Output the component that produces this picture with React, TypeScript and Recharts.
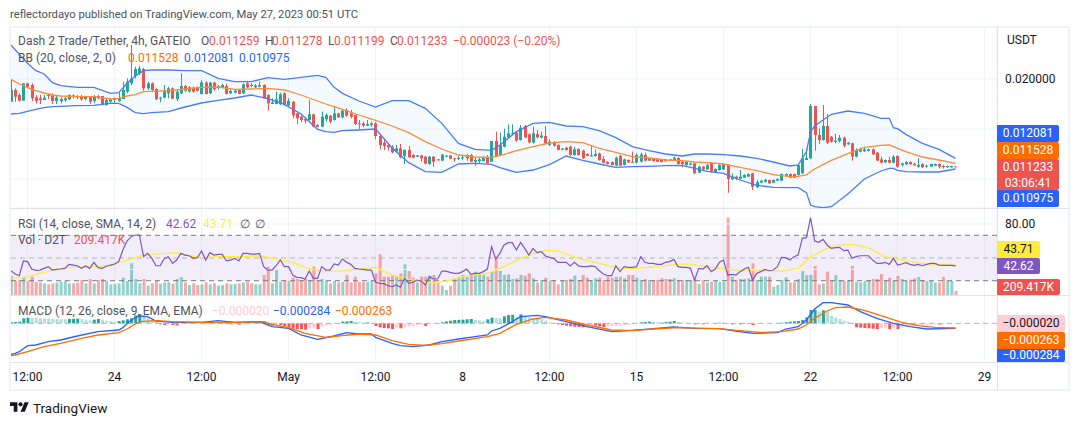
import React from "react";
import { ComposedChart, Bar, Line, Area, XAxis, YAxis, CartesianGrid, ReferenceLine, ReferenceArea, Cell } from "recharts";

// Prices are in units of 1/30000 USDT, so 600 = 0.020000
const PRICE_UNIT = 1 / 30000;
const opens = [
532,567,552,535,587,582,545,542,537,552,
550,534,534,536,539,551,549,549,540,547,
534,549,549,522,532,537,534,540,562,587,
609,617,630,572,587,570,542,544,557,572,
540,557,579,562,574,575,555,589,557,589,
574,575,579,557,559,567,557,587,582,575,
577,582,552,525,525,524,557,521,532,497,
487,480,477,494,462,457,479,490,477,497,
485,507,497,492,467,467,460,462,467,429,
409,402,395,382,392,369,387,372,367,371,
367,345,367,359,355,367,371,362,360,362,
362,372,352,354,354,365,352,414,372,397,
425,435,439,417,459,434,409,435,424,429,
402,411,402,388,394,397,372,390,385,375,
369,369,377,360,351,351,340,370,342,357,
351,349,352,372,355,360,359,359,359,359,
355,363,351,342,343,347,319,337,329,349,
321,327,329,342,299,307,301,304,307,317,
275,289,292,297,289,295,295,310,315,315,
312,317,357,362,519,432,417,459,427,411,
414,424,404,407,367,382,383,384,389,379,
359,350,357,349,369,342,344,351,346,337,
345,337,337,340,345,339,335,335,338];
const closes = [
567,547,535,587,577,542,534,537,544,549,
534,544,540,542,552,547,545,539,547,532,
549,542,522,537,539,541,542,567,592,602,
630,632,572,587,567,539,544,565,572,541,
562,579,565,575,562,565,590,555,589,569,
579,582,555,564,565,555,584,575,579,580,
582,542,527,530,539,554,522,534,492,482,
477,475,494,457,457,487,492,472,497,485,
505,490,487,465,465,460,465,467,429,402,
399,395,380,392,365,387,365,364,371,362,
346,367,352,356,373,370,361,359,363,365,
372,352,357,359,363,347,414,369,402,427,
437,437,415,454,425,410,437,425,430,407,
412,400,387,391,387,372,389,372,362,370,
371,375,357,349,345,342,364,340,359,350,
349,372,374,355,362,354,352,351,353,355,
364,345,345,351,347,317,337,329,342,321,
330,342,344,300,307,301,307,312,315,277,
291,295,298,287,297,300,315,315,304,304,
342,362,363,519,432,417,459,409,412,415,
424,400,409,367,387,389,389,389,374,355,
349,357,349,367,337,347,351,344,341,342,
335,340,345,345,337,336,339,339,337];
const highs = [
597,572,557,587,589,587,552,552,552,557,
557,552,545,547,554,554,552,552,549,549,
552,552,549,542,542,545,559,592,602,702,
637,639,634,592,590,572,547,582,577,575,
567,617,582,579,577,578,597,594,591,592,
582,585,585,569,569,569,587,594,587,585,
592,584,554,542,562,559,560,542,534,499,
490,485,537,496,465,502,497,492,517,499,
509,512,507,494,477,472,477,472,470,432,
422,407,402,402,405,389,399,375,372,372,
369,369,369,360,375,372,372,364,369,372,
375,375,364,364,367,372,414,442,439,451,
464,464,442,462,462,437,457,447,442,459,
419,414,404,393,396,400,397,392,388,377,
399,389,379,369,353,353,367,372,361,359,
382,377,379,379,364,362,361,361,360,360,
367,365,353,353,349,349,339,339,345,351,
332,345,347,344,317,310,327,314,317,319,
297,297,300,298,299,302,317,317,316,316,
342,390,391,525,519,452,522,495,429,435,
432,427,411,409,392,394,397,391,392,381,
367,359,367,372,371,349,354,353,348,362,
347,343,346,346,347,342,340,340,338];
const lows = [
532,532,532,535,572,534,527,525,537,540,
525,525,527,532,537,542,540,535,537,525,
527,540,521,520,527,525,532,540,557,582,
602,612,565,567,565,537,530,542,542,540,
534,555,562,560,559,563,554,554,555,565,
569,572,554,555,557,554,555,572,575,573,
575,541,505,525,524,522,520,519,482,465,
470,467,475,455,455,455,472,467,475,483,
482,487,482,462,449,455,459,457,419,389,
387,385,377,379,362,345,364,362,366,352,
344,342,337,355,354,365,360,352,357,357,
355,351,340,347,352,346,351,367,370,395,
422,432,412,415,422,407,407,422,422,405,
399,397,386,386,385,370,370,370,360,368,
367,367,355,347,344,341,339,339,341,348,
348,347,350,353,354,352,351,350,352,354,
354,344,335,340,341,315,318,327,327,319,
320,325,327,259,297,297,299,303,306,267,
274,288,289,286,288,294,294,309,303,303,
310,315,357,360,385,405,415,405,409,407,
409,395,403,355,365,380,381,383,372,354,
347,348,347,347,334,337,342,343,340,334,
333,334,336,339,332,331,334,334,336];

const bbIdx = [0,2,4,6,8,10,12,16,20,24,26,28,30,32,34,38,42,46,50,54,58,62,66,70,74,76,78,80,84,88,92,96,100,104,108,112,116,118,122,126,130,134,138,142,146,150,154,158,162,165,168,172,176,180,184,188,190,192,193,194,196,198,202,206,210,212,213,214,216,220,224,228];
const bbUpper = [702,674,647,625,615,589,580,575,575,557,559,587,609,625,627,627,625,625,602,592,592,604,599,605,611,605,575,557,534,516,535,535,512,467,407,389,386,402,442,467,470,459,457,445,424,397,385,375,369,375,375,373,369,362,351,339,342,382,442,459,477,494,504,497,482,482,454,451,434,407,389,362];
const bbMid = [599,585,574,565,558,552,549,547,547,540,542,549,553,562,563,565,570,575,576,569,570,572,567,552,534,525,517,509,492,476,459,439,412,390,372,366,365,370,385,397,408,412,409,392,380,367,363,357,355,351,349,345,335,325,313,307,308,312,322,330,343,356,376,395,401,402,397,392,382,366,357,347];
const bbLower = [495,497,503,509,514,517,518,520,521,527,527,515,499,496,499,502,516,528,536,543,552,541,524,495,449,442,440,445,447,450,393,349,322,320,345,347,344,334,320,327,343,369,356,345,335,337,338,340,341,332,323,317,297,281,275,274,274,259,222,217,214,217,255,300,324,332,332,326,322,321,321,330];

const rsi = [
38.8,35.9,34.4,47.4,46.8,40.3,39.1,39.4,40.9,42.4,
39.4,40,40.3,40.9,44.4,43.8,43.2,40.9,43,40.9,
46.2,41.5,40.9,42.7,43.8,44.7,46.8,57,65,68.8,
70.3,70.3,51.2,54.1,49.7,43.2,43.2,49.7,51.2,45.3,
48.2,54.1,52.6,52,49.7,50.3,56.2,48.2,54.7,52.6,
53.2,53.2,47.6,48.2,49.7,47.4,54.1,54.1,53.5,53.5,
54.1,42.4,39.4,39.4,43.2,48.2,42.4,42.4,35,33,
32.7,31.5,38.5,32.1,32.1,42.4,39.4,39.4,44.7,43.8,
49.1,46.2,44.4,40.9,40.3,40,39.4,39.4,28.6,27.7,
27.4,25.6,24.7,26.2,24.2,32.1,27.7,28.6,30.6,29.7,
26.2,33.6,31.5,31.5,38.5,38.5,37.4,36.5,36.5,38,
40.3,35.6,36.5,36.5,38,40.3,60,49.1,54.1,61.5,
63.5,63.5,57,63.8,58.5,52.6,58.5,54.7,55.6,51.8,
50.6,49.7,46.2,46.2,46.2,43,46.2,43,42.4,42.4,
43,42.4,38.8,35.9,34.4,34.4,43.2,38,42.4,41.8,
41.8,42.4,51.2,46.2,45.3,45.3,44.4,44.4,46.2,46.8,
48.8,42.4,41.8,41.8,40.9,30.6,40.9,40.3,43.2,38,
40.3,46.2,48.2,35,35.6,35,38,40.3,41.8,30.6,
36.5,38,40,38.8,39.4,42.4,50.6,50.3,48.2,51.2,
52.6,67.3,67.9,85.5,65,63.8,66.4,61.5,58.5,59.1,
59.4,56.5,57,49.7,51.2,52,52,52,48.2,45.3,
45.3,46.2,44.4,49.7,43.8,44.7,45.9,44.4,43.5,44.4,
43.2,44.4,45.3,45.3,43.8,43.5,43.5,43.5,43];
const rsiMaIdx = [0,3,7,12,18,24,28,32,35,40,43,46,50,55,60,64,68,71,75,80,84,88,92,96,102,106,110,115,119,123,129,132,137,141,147,151,156,161,164,169,171,175,181,186,190,193,197,199,203,207,211,216,221,228];
const rsiMa = [32.1,32.7,36.5,40.9,42.4,43.2,48.2,52.6,53.5,54.7,52,50.3,51.2,51.2,52,49.1,46.2,41.5,38.5,38.5,40.3,41.8,35,31.5,27.7,30.6,34.4,36.5,42.4,49.7,57,56.2,49.7,46.2,40.9,40.9,42.4,44.7,44.7,41.8,40.9,39.4,38.8,38.5,40.9,51.2,58.5,60.9,62,59.1,51.2,47.6,44.7,43.7];

// Volume in units of 17.45K
const VOL_UNIT_K = 17.45;
const volumes = [
57,42,45,52,42,55,40,38,35,32,
35,38,40,42,35,35,37,45,35,48,
35,45,48,42,32,34,35,52,42,95,
48,35,48,28,35,42,34,38,38,34,
48,54,38,30,35,30,32,38,32,35,
28,30,35,32,33,35,38,40,35,32,
32,60,85,35,75,40,45,42,52,48,
45,48,45,85,45,48,42,35,42,38,
40,60,38,55,40,40,40,42,65,122,
55,55,58,55,65,92,72,52,38,55,
55,58,60,38,28,15,28,50,55,60,
55,62,70,62,60,55,70,115,72,60,
62,48,50,60,58,65,50,38,45,52,
43,45,32,43,45,48,58,45,60,52,
45,50,52,45,55,52,55,55,50,60,
60,52,45,48,45,45,45,50,48,48,
50,45,45,45,45,48,33,45,38,40,
42,40,40,232,55,45,48,48,50,95,
45,55,55,55,25,30,45,53,38,40,
48,72,60,60,87,32,35,70,45,60,
45,42,45,87,40,38,42,45,48,48,
63,42,52,42,57,48,42,46,50,54,
45,42,42,38,38,54,42,42,12];

// MACD values in units of 0.0000189
const macdHist = [
3,4,5,15,17,16,15.5,15,14.5,14,
13.5,13,12.5,12,13,13.5,14,13,11,9,
11,13,10,8,7,6,7,9,12,15,
24,28,20,15,10,5,-3,-5,-3,-5,
-6,-3,1,2,3,2,3,4,5,4,
3,2,-2,-3,-2,-4,-2,1,3,4,
5,6,-5,-7,-3,-5,-8,-12,-16,-17,
-18,-19,-15,-14,-17,-10,-7,-4,-2,1,
5,6,7,5,4,2,3,1,-8,-12,
-14,-15,-17,-13,-15,-13,-10,-9,-5,-4,
-8,-2,-1,1,3,6,8,10,10.5,11,
12,13,10,9,8,12,17,16,15,21,
25,25.5,20,27,22,18,16,13,11,8,
3,1,-3,-5,-7,-9,-10,-11,-12,-7,
-5,-6,-9,-11,-10,-9,-8,-7,-6,-5,
-3,-2,3,4,5,4.5,4,3.5,4,5,
7,4,3,2,1,-3,-2,-3,-1.5,-1,
1,2,2,-1,-3,-2,-3,1,-2,-5,
-3,-2,-1,-1,-0.5,1,2,3.5,5,6,
7,10,18,40,41,36,39,35,22,17,
13,8,4,-2,-12,-13,-14,-15,-16,-17,
-15,-13,-17,-15,-17,-12,-8,-7,-6,-5,
-4.5,-4,-3.5,-3,-3.5,-3,-2.5,-2,-1];
const macdIdx = [0,1,2,4,6,9,12,16,21,26,27,29,31,33,35,39,46,50,54,60,63,67,70,74,78,81,84,87,88,92,94,97,101,104,108,112,115,116,118,121,123,127,129,134,139,145,149,153,160,165,171,175,179,185,187,190,192,194,196,198,202,205,209,213,217,221,228];
const macdLine = [-93,-90,-85,-67,-65,-55,-50,-38,-25,-20,-13,10,22,20,7,3,3,8,3,5,-10,-15,-35,-48,-38,-28,-32,-32,-42,-60,-67,-70,-65,-55,-47,-40,-35,-23,-15,5,20,24,20,5,-10,-25,-22,-18,-11,-15,-16,-23,-30,-28,-17,-10,10,43,62,62,55,35,15,0,-10,-17,-15];
const signalIdx = [0,1,4,8,12,17,21,26,28,31,35,39,46,54,61,63,67,71,76,80,84,88,92,96,100,104,108,115,118,122,126,129,134,139,145,150,155,161,171,175,181,186,190,192,194,197,199,202,206,210,215,219,223,228];
const signalLine = [-97,-95,-85,-70,-60,-45,-35,-28,-17,5,8,5,3,3,5,-3,-13,-30,-42,-37,-32,-35,-52,-63,-66,-61,-53,-40,-30,-3,13,18,10,-5,-20,-22,-17,-13,-16,-21,-27,-25,-17,-5,15,37,47,49,39,23,3,-7,-12,-14];

const timeTickIdx = [4,25,46,67,88,109,130,151,172,193,214,235];
const timeTickLabels = ["12:00","24","12:00","May","12:00","8","12:00","15","12:00","22","12:00","29"];

const UP = "#26a69a", DOWN = "#ef5350";
const at = (idx: number[], vals: number[], i: number) => { const k = idx.indexOf(i); return k < 0 ? null : vals[k]; };
const rows = opens.map((o, i) => ({
  i, o, c: closes[i], h: highs[i], l: lows[i], range: [lows[i], highs[i]],
  upper: at(bbIdx, bbUpper, i), mid: at(bbIdx, bbMid, i), lower: at(bbIdx, bbLower, i),
  band: bbIdx.includes(i) ? [at(bbIdx, bbLower, i), at(bbIdx, bbUpper, i)] : null,
  rsi: rsi[i], rsiMa: at(rsiMaIdx, rsiMa, i), vol: volumes[i] * VOL_UNIT_K,
  hist: macdHist[i], macd: at(macdIdx, macdLine, i), signal: at(signalIdx, signalLine, i),
}));
const histColor = (i: number) => {
  const v = macdHist[i], p = i > 0 ? macdHist[i - 1] : v - 1;
  return v >= 0 ? (v > p ? "#26a69a" : "#b2dfdb") : (v < p ? "#ff5252" : "#ffcdd2");
};
const X_DOMAIN: [number, number] = [-0.24, 238];
const GRID = "#f0f3fa", SEP = "#e0e3eb", TXT = "#131722", LEG = "#50535e";
const FONT = "Roboto, sans-serif";

const Candle = (p: any) => {
  const { x, y, width, height, payload } = p;
  const k = height / (payload.h - payload.l);
  const cx = Math.round(x + width / 2 - 0.5) + 0.5;
  const top = y + (payload.h - Math.max(payload.o, payload.c)) * k;
  const bh = Math.max(1, Math.abs(payload.o - payload.c) * k);
  const col = payload.c >= payload.o ? UP : DOWN;
  return <g>
    <rect x={cx - 0.5} y={y} width={1} height={height} fill={col} />
    <rect x={cx - 1.5} y={top} width={3} height={bh} fill={col} />
  </g>;
};

const T = ({ x, y, c = LEG, s = 12, w, children }: any) => (
  <div style={{ position: "absolute", left: x, top: y - 8, height: 16, lineHeight: "16px", color: c, fontSize: s, fontWeight: w, whiteSpace: "nowrap", fontFamily: FONT }}>{children}</div>
);
const Tag = ({ y, h, w, bg, c = "#fff", lh = 16, children }: any) => (
  <div style={{ position: "absolute", left: 997, top: y, width: w, height: h, background: bg, color: c, overflow: "hidden", fontFamily: FONT, fontSize: 12, textAlign: "center", whiteSpace: "pre-line", lineHeight: lh + "px", borderRadius: "0 2px 2px 0" }}>{children}</div>
);
const Rule = ({ l, t, w, h, c = SEP }: any) => <div style={{ position: "absolute", left: l, top: t, width: w, height: h, background: c }} />;

export default function App() {
  const tickFont = { fontSize: 12, fill: TXT, fontFamily: FONT };
  return (
    <div style={{ position: "absolute", left: 0, top: 0, width: 1079, height: 425, background: "#fff", overflow: "hidden" }}>
      <style>{"body{margin:0}"}</style>
      <T x={10} y={15} c="#4c525e" s={11.25}>reflectordayo published on TradingView.com, May 27, 2023 00:51 UTC</T>

      {/* main pane */}
      <div style={{ position: "absolute", left: 0, top: 27 }}>
        <ComposedChart width={1070} height={181} data={rows} margin={{ left: 10, right: 0, top: 0, bottom: 0 }}>
          <CartesianGrid stroke={GRID} />
          <XAxis dataKey="i" type="number" scale="linear" domain={X_DOMAIN} ticks={timeTickIdx} hide allowDataOverflow />
          <YAxis orientation="right" width={73} domain={[213, 756]} ticks={[300, 450, 600]} axisLine={false} tickLine={false} tickMargin={2} tick={tickFont} interval={0}
            tickFormatter={(v: number) => v === 600 ? (v * PRICE_UNIT).toFixed(6) : ""} allowDataOverflow />
          <Area dataKey="band" stroke="none" fill="#2196f3" fillOpacity={0.05} connectNulls isAnimationActive={false} dot={false} activeDot={false} />
          <Bar dataKey="range" barSize={3} shape={Candle} isAnimationActive={false} />
          <Line dataKey="upper" stroke="#4a7cf7" strokeWidth={1.3} dot={false} connectNulls isAnimationActive={false} />
          <Line dataKey="lower" stroke="#4a7cf7" strokeWidth={1.3} dot={false} connectNulls isAnimationActive={false} />
          <Line dataKey="mid" stroke="#ff8a3a" strokeWidth={1.3} dot={false} connectNulls isAnimationActive={false} />
        </ComposedChart>
      </div>

      {/* RSI + volume pane */}
      <div style={{ position: "absolute", left: 0, top: 209 }}>
        <ComposedChart width={1070} height={86} data={rows} margin={{ left: 10, right: 0, top: 0, bottom: 0 }}>
          <CartesianGrid stroke={GRID} horizontal={false} />
          <XAxis dataKey="i" type="number" scale="linear" domain={X_DOMAIN} ticks={timeTickIdx} hide allowDataOverflow />
          <YAxis yAxisId="vol" hide domain={[0, 4502]} allowDataOverflow />
          <YAxis yAxisId="rsi" orientation="right" width={73} domain={[17.4, 93.2]} ticks={[80]} axisLine={false} tickLine={false} tickMargin={2} tick={tickFont} interval={0}
            tickFormatter={(v: number) => v.toFixed(2)} allowDataOverflow />
          <ReferenceLine yAxisId="rsi" y={80} stroke={GRID} />
          <ReferenceLine yAxisId="rsi" y={40} stroke={GRID} />
          <ReferenceArea yAxisId="rsi" y1={30} y2={70} fill="#7e57c2" fillOpacity={0.1} stroke="none" />
          <Bar yAxisId="vol" dataKey="vol" barSize={3} isAnimationActive={false}>
            {rows.map(r => <Cell key={r.i} fill={r.c >= r.o ? UP : DOWN} fillOpacity={0.5} />)}
          </Bar>
          <ReferenceLine yAxisId="rsi" y={70} stroke="#787b86" strokeDasharray="5 4" />
          <ReferenceLine yAxisId="rsi" y={50} stroke="#b2b5be" strokeDasharray="5 4" />
          <ReferenceLine yAxisId="rsi" y={30} stroke="#787b86" strokeDasharray="5 4" />
          <Line yAxisId="rsi" dataKey="rsiMa" stroke="#ffeb3b" strokeWidth={1.3} dot={false} connectNulls isAnimationActive={false} />
          <Line yAxisId="rsi" dataKey="rsi" stroke="#7e57c2" strokeWidth={1.2} dot={false} connectNulls isAnimationActive={false} />
        </ComposedChart>
      </div>

      {/* MACD pane + time axis */}
      <div style={{ position: "absolute", left: 0, top: 296 }}>
        <ComposedChart width={1070} height={94} data={rows} margin={{ left: 10, right: 0, top: 0, bottom: 0 }}>
          <CartesianGrid stroke={GRID} horizontal={false} />
          <XAxis dataKey="i" type="number" scale="linear" domain={X_DOMAIN} ticks={timeTickIdx} interval={0} height={28} axisLine={false} tickLine={false} tickMargin={4} tick={tickFont}
            tickFormatter={(v: number) => timeTickLabels[timeTickIdx.indexOf(v)]} allowDataOverflow />
          <YAxis orientation="right" width={73} domain={[-116, 82]} ticks={[]} axisLine={false} tickLine={false} allowDataOverflow />
          <ReferenceLine y={0} stroke="#b2b5be" strokeDasharray="5 4" />
          <Bar dataKey="hist" barSize={3} isAnimationActive={false}>
            {rows.map(r => <Cell key={r.i} fill={histColor(r.i)} />)}
          </Bar>
          <Line dataKey="macd" stroke="#2962ff" strokeWidth={1.3} dot={false} connectNulls isAnimationActive={false} />
          <Line dataKey="signal" stroke="#ff6d00" strokeWidth={1.3} dot={false} connectNulls isAnimationActive={false} />
        </ComposedChart>
      </div>

      {/* frame and separators */}
      <Rule l={9} t={26} w={1061} h={2} c="#f0f3fa" />
      <Rule l={9} t={389} w={1061} h={2} c="#f0f3fa" />
      <Rule l={9} t={26} w={2} h={365} c="#f0f3fa" />
      <Rule l={1068} t={26} w={2} h={365} c="#f0f3fa" />
      <Rule l={10} t={208} w={1059} h={1} />
      <Rule l={10} t={295} w={1059} h={1} />
      <Rule l={10} t={362} w={1059} h={1} />
      <Rule l={997} t={27} w={1} h={363} />

      {/* legends */}
      <T x={18} y={41}>Dash 2 Trade/Tether, 4h, GATEIO</T>
      <T x={201} y={41}>O</T><T x={209} y={41} c={DOWN}>0.011259</T>
      <T x={265} y={41}>H</T><T x={272} y={41} c={DOWN}>0.011278</T>
      <T x={328} y={41}>L</T><T x={334} y={41} c={DOWN}>0.011199</T>
      <T x={390} y={41}>C</T><T x={397} y={41} c={DOWN}>0.011233</T>
      <T x={453} y={41} c={DOWN}>−0.000023 (−0.20%)</T>
      <T x={18} y={58}>BB (20, close, 2, 0)</T>
      <T x={128} y={58} c="#ff6d00">0.011528</T>
      <T x={184} y={58} c="#2962ff">0.012081</T>
      <T x={239} y={58} c="#2962ff">0.010975</T>
      <T x={18} y={224}>RSI (14, close, SMA, 14, 2)</T>
      <T x={166} y={224} c="#7e57c2">42.62</T>
      <T x={203} y={224} c="#ffeb3b">43.71</T>
      <T x={240} y={224}>∅</T><T x={255} y={224}>∅</T>
      <T x={18} y={240}>Vol · D2T</T>
      <T x={74} y={240} c={DOWN}>209.417K</T>
      <T x={18} y={311}>MACD (12, 26, close, 9, EMA, EMA)</T>
      <T x={212} y={311} c="#ffcdd2">−0.000020</T>
      <T x={273} y={311} c="#2962ff">−0.000284</T>
      <T x={335} y={311} c="#ff6d00">−0.000263</T>

      {/* price scale */}
      <T x={1007} y={40} c={TXT}>USDT</T>
      <Tag y={125} h={17} w={62} bg="#2962ff">0.012081</Tag>
      <Tag y={142} h={17} w={62} bg="#ff6d00">0.011528</Tag>
      <Tag y={159} h={31} w={62} bg={DOWN}>{"0.011233\n03:06:41"}</Tag>
      <Tag y={190} h={17} w={62} bg="#2962ff">0.010975</Tag>
      <Tag y={241} h={17} w={43} bg="#ffeb3b" c={TXT}>43.71</Tag>
      <Tag y={258} h={16} w={43} bg="#7e57c2">42.62</Tag>
      <Tag y={279} h={16} w={63} bg={DOWN}>209.417K</Tag>
      <Tag y={315} h={17} w={68} bg="#ffcdd2" c={TXT}>−0.000020</Tag>
      <Tag y={332} h={17} w={68} bg="#ff6d00">−0.000263</Tag>
      <Tag y={349} h={13} lh={13} w={68} bg="#2962ff">−0.000284</Tag>

      {/* footer */}
      <svg style={{ position: "absolute", left: 10, top: 402 }} width={19} height={10} viewBox="0 4 36 18">
        <path d="M14 22H7V11H0V4h14v18zM28 22h-8l7.5-18h8L28 22z" fill="#131722" />
        <circle cx="20" cy="8" r="4" fill="#131722" />
      </svg>
      <T x={33} y={408} s={13.5} c="#131722">TradingView</T>
    </div>
  );
}
